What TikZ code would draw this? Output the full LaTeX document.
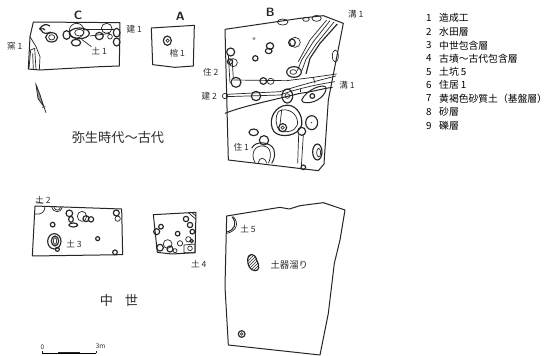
\documentclass[tikz,border=0pt]{standalone}
\usepackage{fontspec}
\setmainfont{Noto Sans CJK JP}
\usetikzlibrary{patterns}
\definecolor{ink}{gray}{0.15}
\definecolor{labelink}{gray}{0.18}
\tikzset{
  lab/.style={inner sep=0pt,text=labelink,font=\fontsize{8.6}{9}\selectfont},
  big/.style={inner sep=0pt,text=labelink,font=\fontsize{13.2}{15}\selectfont},
  sec/.style={inner sep=0pt,text=ink,font=\sffamily\bfseries\fontsize{12}{12}\selectfont},
  leg/.style={inner sep=0pt,anchor=west,text=black,font=\fontsize{9.8}{11}\selectfont},
  wall/.style={draw=ink,line width=1pt,line join=round},
  fine/.style={draw=ink,line width=0.7pt},
  pit/.style={draw=ink,line width=1.15pt},
}
\begin{document}
\begin{tikzpicture}[x=1pt,y=-1pt]
\useasboundingbox[fill=white] (0,0) rectangle (550,356);

% ---------- Yayoi C (zoom coordinates) ----------
\begin{scope}[scale=1/3]
\draw[wall] (100,66)--(360,68)--(358,198)--(300,200)--(120,210)--(85,207)--(90,110)--cycle;
\draw[fine] (90,110)--(108,140)--(120,170)--(118,210);
\draw[fine] (87,205)--(92,150)--(104,145)--(108,208);
\draw[fine] (98,160)--(100,208);
\draw[pit] (120,90) arc (200:340:8 and 6) (118,88) .. controls (130,70) and (140,72) .. (150,78);
\draw[pit] (123,90) .. controls (130,105) and (145,100) .. (152,96);
\draw[pit] (155,112) ellipse (18 and 14);
\draw[fine] (155,112) ellipse (9 and 8);
\draw[pit] (200,105) ellipse (11 and 13);
\draw[fine] (230,92) circle (22);
\draw[pit] (238,100) ellipse (30 and 16);
\draw[fine] (238,98) ellipse (14 and 10);
\draw[pit] (228,128) ellipse (14 and 10);
\draw[pit] (298,108) ellipse (12 and 11);
\draw[fine] (320,85) ellipse (16 and 15);
\draw[pit] (350,98) ellipse (10 and 13);
\draw[pit] (350,126) ellipse (10 and 12);
\draw[fine] (330,110) circle (7);
\draw[fine] (248,88)--(345,88);
\draw[fine] (270,108)--(330,100);
\coordinate (tsu1p) at (245,118);
\node[lab] (tsu1) at (298,152) {土 1};
\draw[fine] (tsu1p)--(tsu1.north west);
\node[lab] (ken1) at (403,88) {建 1};
\node[lab] (kama1) at (44,138) {窯 1};
\node[sec] (C) at (234,45) {C};
% north mark
\coordinate (na) at (108,254);
\coordinate (nb) at (138,338);
\draw[fine] (na)--(nb);
\draw[fine,fill=ink!50] (108,254)--(114,296)--(130,318)--(120,284)--cycle;
\draw[fine] (126,322)--(136,320);
% Yayoi A
\draw[wall] (454,84)--(583,76)--(580,198)--(525,202)--(458,194)--cycle;
\draw[pit] (502,122) ellipse (12 and 14);
\draw[fine] (503,122) circle (5);
\node[lab] (kan1) at (532,161) {棺 1};
\node[sec] (A) at (541,49) {A};
\node[big] (yayoi) at (354,412) {弥生時代〜古代};
\end{scope}

% ---------- Yayoi B ----------
\begin{scope}[shift={(200,0)},scale=1/3]
\draw[wall] (75,88)--(300,55)--(370,47)--(430,70)--(385,300)--(372,492)--(355,512)--(85,480)--cycle;
% horizontal cut bands
\draw[wall] (75,340) .. controls (130,318) and (220,300) .. (300,280) .. controls (340,275) and (370,265) .. (398,262);
\draw[fine] (78,290)--(240,285) .. controls (280,270) and (340,255) .. (405,245);
\draw[fine] (80,283)--(240,275) .. controls (280,262) and (340,245) .. (408,228);
\draw[fine] (100,240)--(260,242)--(340,232)--(410,222);
\draw[fine] (340,232)--(345,250);
\draw[fine] (300,268)--(300,275);
% ditch NE
\draw[fine] (390,62)--(340,125)--(305,180)--(292,212);
\draw[fine] (402,66)--(350,130)--(318,178)--(304,216);
\draw[pit] (412,72)--(360,130)--(330,175)--(318,222);
\draw[fine] (380,60)--(330,120)--(295,185);
\draw[pit] (282,216) ellipse (22 and 16);
\draw[fine] (280,216) ellipse (10 and 7);
% upper pits
\draw[fine] (248,66) ellipse (16 and 9);
\draw[fine] (318,58) ellipse (10 and 6);
\draw[fine] (350,55) ellipse (14 and 9);
\fill[ink!45] (162,116) circle (5);
\draw[pit] (210,138) ellipse (11 and 10);
\draw[pit] (206,153) ellipse (10 and 8);
\draw[pit] (276,128) ellipse (10 and 11);
\draw[fine] (285,127) ellipse (16 and 15);
\draw[pit] (166,175) circle (8);
\draw[pit] (92,156) circle (12);
\draw[fine] (100,188) circle (12);
\draw[pit] (90,185) circle (8);
\draw[fine] (406,168) ellipse (9 and 18);
\draw[fine] (85,165)--(90,250);
\draw[fine] (96,175)--(100,235);
\draw[pit] (108,247) circle (15);
\draw[pit] (190,243) circle (10);
\draw[fine] (212,244) ellipse (10 and 9);
\draw[pit] (168,288) circle (14);
\draw[pit] (262,288) ellipse (16 and 21);
\draw[fine] (262,288) circle (7);
\draw[fine] (75,288) circle (8);
% pit right of band
\draw[wall] (305,300) .. controls (320,268) and (370,250) .. (378,262) .. controls (382,282) and (350,310) .. (320,308) .. controls (310,308) and (305,305) .. (305,300);
\draw[pit] (337,288) circle (7);
% large house ring
\draw[pit] (248,318) .. controls (285,305) and (310,345) .. (305,375) .. controls (295,410) and (240,415) .. (222,395) .. controls (205,370) and (215,330) .. (248,318);
\draw[fine] (235,335) .. controls (225,350) and (226,375) .. (238,392) .. controls (255,400) and (285,395) .. (292,375);
\draw[fine] (245,330) .. controls (275,325) and (297,350) .. (292,375);
\draw[fine] (235,335)--(245,330)--(240,375);
\draw[pit] (248,383) circle (12);
\draw[fine] (248,383) circle (5);
\draw[pit] (335,368) ellipse (18 and 21);
\fill[ink] (335,368) circle (2);
\draw[pit] (161,397) ellipse (14 and 10);
\draw[pit] (192,421) circle (14);
% house 1
\draw[wall] (155,445) .. controls (165,420) and (215,425) .. (222,450) .. controls (228,470) and (218,485) .. (215,490);
\draw[fine] (165,488) .. controls (150,460) and (165,435) .. (190,438) .. controls (215,440) and (215,470) .. (205,490);
\draw[fine] (175,488) .. controls (178,470) and (195,470) .. (200,490);
\draw[pit] (305,394) circle (12);
\draw[fine] (296,404)--(293,490);
\draw[fine] (310,404)--(304,500);
\draw[pit] (310,502) circle (7);
\draw[pit] (352,456) ellipse (14 and 24);
\draw[fine] (356,458) ellipse (6 and 13);
\node[lab] (ju2) at (32,216) {住 2};
\node[lab] (ken2) at (28,290) {建 2};
\node[lab] (ju1) at (124,442) {住 1};
\node[lab] (mizo1a) at (467,44) {溝 1};
\node[lab] (mizo1b) at (441,257) {溝 1};
\node[sec] (B) at (211,36) {B};
\end{scope}

% ---------- Medieval C and A ----------
\begin{scope}[shift={(0,180)},scale=1/3]
\draw[wall] (105,78)--(365,87)--(368,224)--(97,228)--cycle;
\draw[fine] (105,102) .. controls (125,105) and (135,95) .. (135,80);
\draw[fine] (155,80) .. controls (160,100) and (182,100) .. (187,82);
\draw[fine] (162,82) .. controls (166,93) and (178,93) .. (182,82);
\draw[pit] (208,100) circle (10);
\draw[pit] (213,118) ellipse (7 and 9);
\draw[pit] (220,135) ellipse (13 and 6);
\draw[fine] (246,109) ellipse (14 and 15);
\draw[pit] (258,116) circle (9);
\draw[pit] (273,118) circle (8);
\draw[pit] (349,99) circle (9);
\draw[fine] (353,116) circle (8);
\draw[pit] (158,134) circle (7);
\draw[pit] (163,184) ellipse (20 and 23);
\draw[pit] (165,183) ellipse (11 and 15);
\draw[fine] (165,183) ellipse (5 and 10);
\draw[pit] (172,208) circle (6);
\draw[pit] (293,176) circle (6);
\draw[pit] (345,217) circle (7);
\node[lab] (tsu2) at (129,60) {土 2};
\draw[fine] (108,65)--(128,70);
\node[lab] (tsu3) at (222,193) {土 3};
% A
\draw[wall] (460,104)--(588,97)--(585,218)--(515,222)--(472,217)--cycle;
\draw[fine] (565,98)--(588,118);
\draw[fine] (575,97)--(588,108);
\draw[pit] (558,117) circle (8);
\draw[pit] (570,135) circle (8);
\draw[pit] (577,155) circle (7);
\draw[pit] (483,140) circle (7);
\draw[pit] (470,155) circle (9);
\draw[pit] (533,161) circle (7);
\draw[fine] (565,178) circle (8);
\draw[fine] (540,190) circle (8);
\draw[pit] (480,203) circle (10);
\draw[fine] (503,192) circle (13);
\draw[pit] (510,207) circle (9);
\draw[fine] (525,212) circle (6);
\draw[fine] (552,195)--(585,192)--(585,218)--(552,218)--cycle;
\draw[fine] (570,205) circle (7);
\draw[pit] (575,183) circle (5);
\node[lab] (tsu4) at (596,253) {土 4};
\node[big] (chusei) at (357,362) {中\hspace{0.9em}世};
% scale bar
\coordinate (s0) at (126,520);
\coordinate (s1) at (288,520);
\draw[draw=black,line width=1.5pt] (s0)--(s1);
\draw[fine] (s0)--++(0,-8);
\draw[fine] (s1)--++(0,-8);
\draw[fine] (175,516)--(240,516);
\node[lab,font=\fontsize{6.5}{7}\selectfont] (zero) at (127,501) {0};
\node[lab,font=\fontsize{6.5}{7}\selectfont] (threem) at (302,499) {3m};
\end{scope}

% ---------- Medieval B ----------
\begin{scope}[shift={(200,180)},scale=1/3]
\draw[wall] (80,108)--(240,82)--(268,87)--(300,77)--(370,68)--(435,90)--(420,180)--(403,250)--(385,400)--(360,525)--(85,495)--(75,320)--cycle;
\draw[wall] (96,110) .. controls (112,130) and (105,150) .. (80,156);
\draw[fine] (100,110) .. controls (118,130) and (110,152) .. (82,160);
\draw[pit,pattern=north east lines,pattern color=ink] (143,238) .. controls (145,218) and (165,218) .. (170,240) .. controls (180,260) and (178,272) .. (165,272) .. controls (150,272) and (142,255) .. (143,238);
\draw[pit] (125,462) circle (10);
\draw[fine] (125,462) circle (4);
\node[lab] (tsu5) at (144,147) {土 5};
\node[lab,font=\fontsize{9.4}{10}\selectfont] (doki) at (268,256) {土器溜り};
\end{scope}

% ---------- Legend ----------
\node[leg] (n1) at (426,18) {1}; \node[leg] (t1) at (439,18) {造成工};
\node[leg] (n2) at (426,32) {2}; \node[leg] (t2) at (439,32) {水田層};
\node[leg] (n3) at (426,45.5) {3}; \node[leg] (t3) at (439,45.5) {中世包含層};
\node[leg] (n4) at (426,58.5) {4}; \node[leg] (t4) at (439,58.5) {古墳〜古代包含層};
\node[leg] (n5) at (426,72) {5}; \node[leg] (t5) at (439,72) {土坑 5};
\node[leg] (n6) at (426,85) {6}; \node[leg] (t6) at (439,85) {住居 1};
\node[leg] (n7) at (426,98.5) {7}; \node[leg] (t7) at (439,98.5) {黄褐色砂質土（基盤層）};
\node[leg] (n8) at (426,112) {8}; \node[leg] (t8) at (439,112) {砂層};
\node[leg] (n9) at (426,126) {9}; \node[leg] (t9) at (439,126) {礫層};
\end{tikzpicture}
\end{document}
